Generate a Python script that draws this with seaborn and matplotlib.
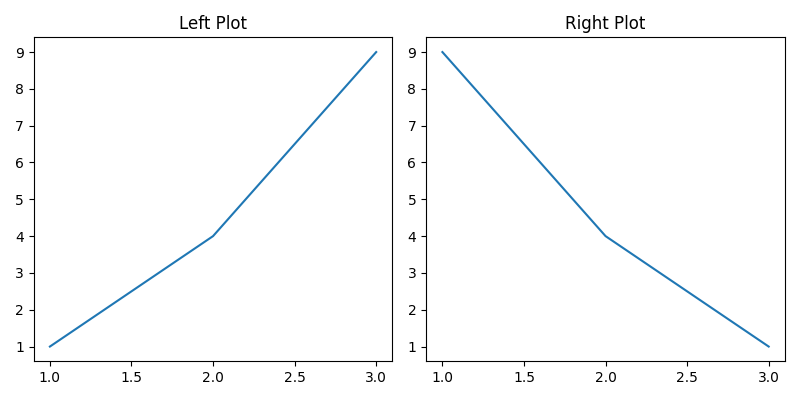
import matplotlib
matplotlib.use("Agg")
import matplotlib.pyplot as plt
import seaborn as sns

x = [1, 2, 3]
left_y = [1, 4, 9]
right_y = [9, 4, 1]

fig, axes = plt.subplots(1, 2, figsize=(8, 4), dpi=100)
sns.lineplot(x=x, y=left_y, ax=axes[0], color="#1f77b4")
axes[0].set_title("Left Plot")
sns.lineplot(x=x, y=right_y, ax=axes[1], color="#1f77b4")
axes[1].set_title("Right Plot")
fig.tight_layout()
fig.savefig("out.png")
